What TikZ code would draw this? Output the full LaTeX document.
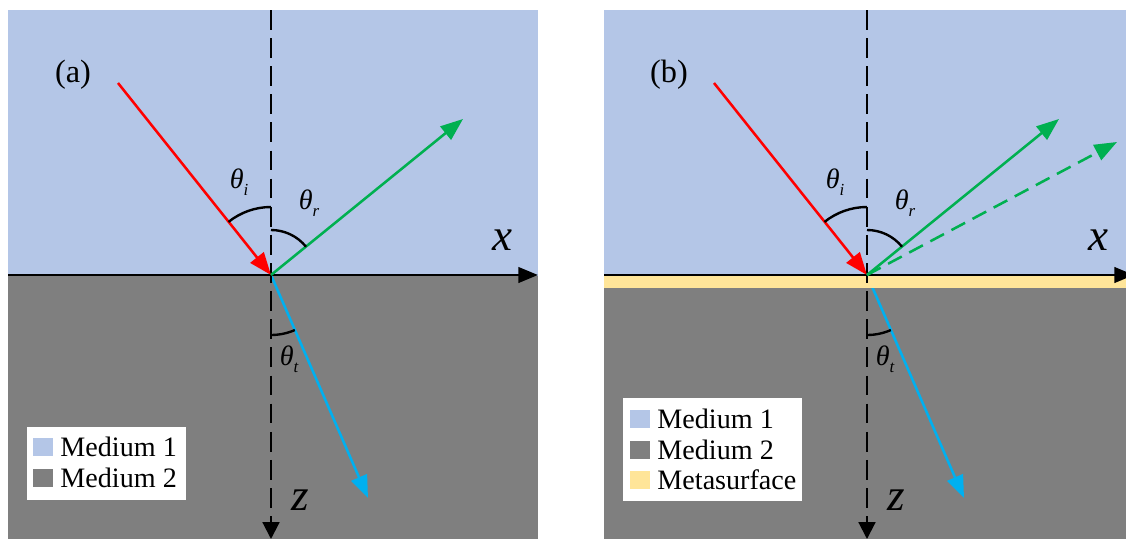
\documentclass[tikz,border=0pt]{standalone}
\usepackage{fontspec}
\setmainfont{Liberation Serif}
\newfontfamily\figserif{Liberation Serif}
\usetikzlibrary{arrows.meta,positioning}

\definecolor{medone}{RGB}{180,198,231}
\definecolor{medtwo}{RGB}{127,127,127}
\definecolor{metacol}{RGB}{255,229,153}
\definecolor{incray}{RGB}{255,0,0}
\definecolor{reflray}{RGB}{0,176,80}
\definecolor{transray}{RGB}{0,176,240}

\newcommand{\angsub}[1]{\raisebox{-5pt}{\fontsize{12}{12}\selectfont #1}}

\tikzstyle{ray} = [draw, line width=1.8pt, -{Triangle[length=16pt,width=12pt]}]
\tikzstyle{axis} = [draw, line width=2pt, -{Triangle[length=14pt,width=11pt]}]
\tikzstyle{normal} = [draw, line width=1.5pt, dash pattern=on 14pt off 6pt, -{Triangle[length=12pt,width=12pt]}]
\tikzstyle{angle arc} = [draw, line width=1.7pt]
\tikzstyle{angle label} = [font=\figserif\fontsize{20}{20}\selectfont\itshape, inner sep=0pt]
\tikzstyle{axis label} = [font=\figserif\fontsize{32}{32}\selectfont\itshape, inner sep=0pt]
\tikzstyle{panel label} = [font=\figserif\fontsize{23}{23}\selectfont, inner sep=0pt]
\tikzstyle{legend box} = [fill=white, inner sep=0pt]
\tikzstyle{swatch} = [minimum width=14pt, minimum height=13.5pt, inner sep=0pt]
\tikzstyle{legend text} = [font=\figserif\fontsize{20}{20}\selectfont, inner sep=0pt, anchor=west]

\begin{document}
\begin{tikzpicture}[x=0.025cm, y=0.025cm]
    \useasboundingbox (0,0) rectangle (1126,-539);
    % the two media of each panel, and the transmitted rays below them
    \foreach \dx/\p in {0/a, 596/b}{
    \begin{scope}[shift={(\dx,0)}]
        \fill[medone] (8,-10) rectangle (538,-276);
        \fill[medtwo] (8,-276) rectangle (538,-539);
        \coordinate (O\p) at (271,-275);
        \coordinate (trans\p) at (368,-498);
        \path[ray, transray] (O\p) -- (trans\p);
    \end{scope}
    }
    % metasurface layer of panel (b)
    \fill[metacol] (604,-276) rectangle (1126,-288);
    % rays, axes and angles
    \foreach \dx/\p in {0/a, 596/b}{
    \begin{scope}[shift={(\dx,0)}]
        \coordinate (xstart\p) at (8,-275);
        \coordinate (xend\p) at (538,-275);
        \coordinate (ztop\p) at (271,-10);
        \coordinate (zend\p) at (271,-539);
        \coordinate (inc\p) at (118,-83);
        \coordinate (refl\p) at (463,-119);
        \path[axis] (xstart\p) -- (xend\p);
        \path[normal] (ztop\p) -- (zend\p);
        \path[ray, incray] (inc\p) -- (O\p);
        \path[ray, reflray] (O\p) -- (refl\p);
        \draw[angle arc] (O\p) ++(90:68) arc[start angle=90, end angle=128.7, radius=68];
        \draw[angle arc] (O\p) ++(90:45) arc[start angle=90, end angle=38.9, radius=45];
        \draw[angle arc] (O\p) ++(270:60) arc[start angle=270, end angle=293.4, radius=60];
        \node[angle label] (thi\p) at (239,-182) {θ\angsub{i}};
        \node[angle label] (thr\p) at (309,-203) {θ\angsub{r}};
        \node[angle label] (tht\p) at (289,-359) {θ\angsub{t}};
        \node[axis label] (xl\p) at (502,-240) {x};
        \node[axis label] (zl\p) at (300,-500) {z};
        \node[panel label] (lab\p) at (73,-75) {(\p)};
    \end{scope}
    }
    % anomalous reflection
    \coordinate (refl2) at (1117,-142);
    \path[ray, reflray, dash pattern=on 11pt off 6pt] (Ob) -- (refl2);
    % legends
    \node[legend box, minimum width=113pt, minimum height=52pt] (lega) at (106.5,-463.5) {};
    \node[swatch, fill=medone] (swa1) at (43,-447) {};
    \node[swatch, fill=medtwo] (swa2) at (43,-478) {};
    \node[legend text, right=5pt of swa1] (ta1) {Medium 1};
    \node[legend text, right=5pt of swa2] (ta2) {Medium 2};
    \node[legend box, minimum width=127pt, minimum height=73pt] (legb) at (712.5,-449.5) {};
    \node[swatch, fill=medone] (swb1) at (640,-419) {};
    \node[swatch, fill=medtwo] (swb2) at (640,-450) {};
    \node[swatch, fill=metacol] (swb3) at (640,-480) {};
    \node[legend text, right=5pt of swb1] (tb1) {Medium 1};
    \node[legend text, right=5pt of swb2] (tb2) {Medium 2};
    \node[legend text, right=5pt of swb3] (tb3) {Metasurface};
\end{tikzpicture}
\end{document}
